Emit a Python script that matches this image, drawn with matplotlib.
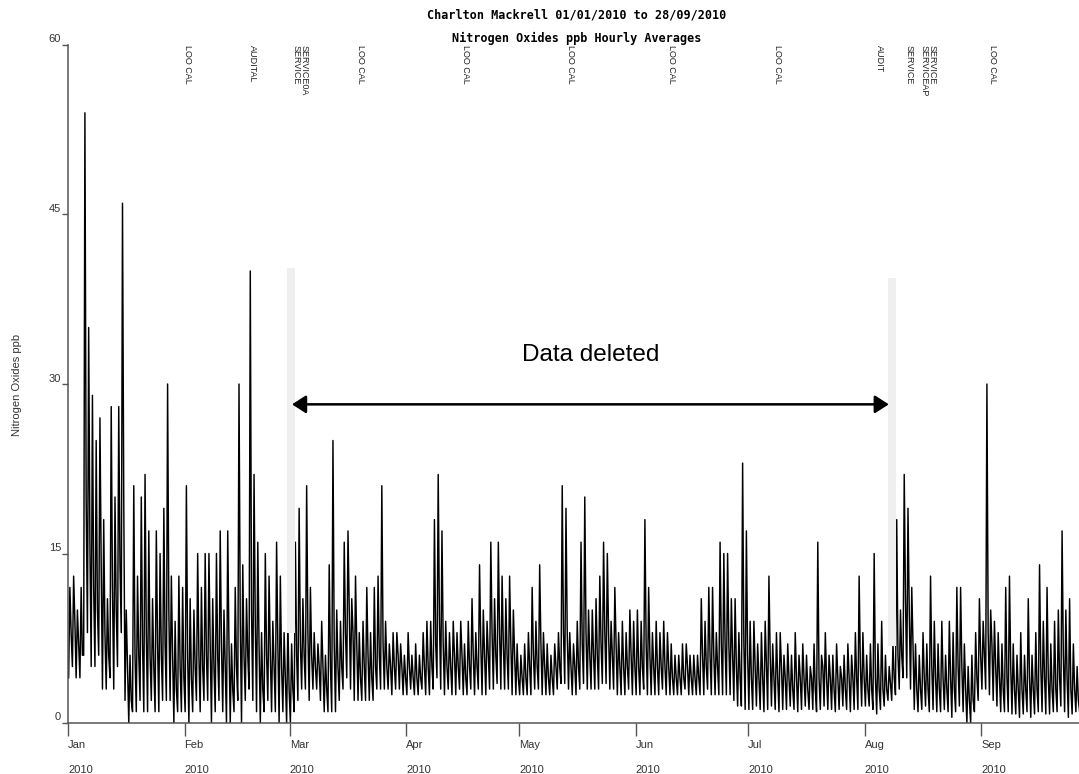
import numpy as np
import matplotlib
matplotlib.use("Agg")
from matplotlib import pyplot as plt
from matplotlib.transforms import ScaledTranslation, blended_transform_factory

# --- Data: NOx hourly record, summarised per day (day 0 = 01/01/2010) ---
# daily highest spike, lowest dip and typical level
nox_peak = (
    [12, 13, 10, 12, 54, 35, 29, 25, 27, 18, 11, 28, 20, 28, 46, 10, 6, 21, 13, 20, 22, 17, 11, 17, 15, 19, 30, 13, 9, 13, 12]  # Jan
    + [21, 11, 10, 15, 12, 15, 15, 11, 15, 17, 10, 17, 7, 12, 30, 14, 11, 40, 22, 16, 8, 15, 13, 9, 16, 13, 8, 9]  # Feb
    + [7, 16, 19, 11, 21, 12, 8, 7, 9, 6, 14, 25, 10, 9, 16, 17, 11, 13, 8, 9, 12, 8, 12, 13, 21, 9, 7, 8, 8, 7, 6]  # Mar
    + [8, 6, 7, 6, 8, 9, 9, 18, 22, 17, 9, 8, 9, 8, 9, 7, 9, 11, 8, 14, 10, 9, 16, 11, 16, 13, 11, 13, 10, 7]  # Apr
    + [6, 7, 8, 12, 9, 14, 8, 7, 6, 7, 8, 21, 19, 8, 7, 9, 16, 20, 10, 10, 11, 13, 16, 15, 9, 12, 8, 9, 8, 10, 9]  # May
    + [10, 9, 18, 12, 8, 9, 8, 9, 8, 7, 6, 6, 7, 7, 6, 6, 6, 11, 9, 12, 12, 8, 16, 15, 15, 11, 11, 8, 23, 17]  # Jun
    + [9, 9, 7, 8, 9, 13, 7, 8, 8, 6, 7, 6, 8, 6, 7, 6, 5, 7, 16, 6, 8, 6, 6, 7, 5, 6, 7, 6, 8, 13, 8]  # Jul
    + [6, 7, 15, 7, 9, 6, 5, 7, 18, 10, 22, 19, 12, 7, 6, 8, 7, 13, 9, 7, 9, 6, 9, 8, 12, 12, 7, 5, 6, 8, 11]  # Aug
    + [9, 30, 10, 9, 8, 7, 12, 13, 7, 6, 8, 6, 11, 6, 8, 14, 9, 12, 7, 9, 10, 17, 10, 11, 7, 5, 4]  # Sep
)
nox_low = (
    [4, 5, 4, 4, 6, 8, 5, 5, 6, 3, 3, 4, 3, 5, 8, 2, 0, 1, 1, 2, 1, 1, 2, 1, 1, 2, 2, 2, 0, 1, 1]
    + [1, 0, 1, 2, 1, 2, 2, 0, 1, 2, 1, 0, 0, 1, 2, 0, 2, 3, 2, 1, 0, 1, 2, 1, 1, 0, 1, 0]
    + [0, 1, 2, 3, 3, 2, 3, 3, 2, 1, 1, 1, 1, 2, 3, 4, 3, 2, 2, 2, 2, 2, 2, 3, 3, 3, 3, 2.5, 3, 3, 2.5]
    + [2.5, 3, 2.5, 2.5, 3, 2.5, 2.5, 3, 4, 3, 2.5, 3, 2.5, 2.5, 3, 2.5, 2.5, 3, 2.5, 3, 2.5, 2.5, 3, 3, 3.5, 3, 3, 3, 2.5, 2.5]
    + [2.5, 2.5, 2.5, 2.5, 3, 3, 2.5, 2.5, 2.5, 2.5, 3, 3.5, 3.5, 3, 2.5, 2.5, 3, 3.5, 3, 3, 3, 3, 3.5, 3.5, 3, 3, 2.5, 2.5, 2.5, 3, 2.5]
    + [2.5, 2.5, 3, 2.5, 2.5, 2.5, 2.5, 3, 2.5, 2.5, 2.5, 2.5, 2.5, 3, 2.5, 2.5, 2.5, 2.5, 2.5, 3, 2.5, 2.5, 2.5, 2.5, 2.5, 2.5, 2, 1.5, 1.5, 1.2]
    + [1.2, 1.2, 1.5, 1.2, 1.0, 1.2, 1.5, 1.2, 1.0, 1.2, 1.2, 1.5, 1.2, 1.0, 1.2, 1.5, 1.2, 1.2, 1.0, 1.2, 1.5, 1.2, 1.2, 1.0, 1.2, 1.5, 1.2, 1.0, 1.2, 1.2, 1.5]
    + [1.5, 1.5, 1.2, 0.8, 1.2, 1.5, 2, 2, 2.5, 3, 4, 4, 3, 1.2, 1, 1.2, 1.5, 1, 1.2, 1, 1, 1.2, 1, 0.5, 1, 1.5, 1, 0, 0, 1, 2]
    + [3, 3, 2.5, 2, 1.5, 1, 1, 1, 0.8, 0.8, 0.5, 0.8, 1, 0.5, 0.8, 1, 1, 0.8, 0.8, 1, 1, 1.5, 1, 0.5, 0.8, 1, 1]
)
nox_typ = (
    [8, 9, 7, 6, 20, 16, 12, 10, 14, 8, 6, 12, 10, 14, 20, 5, 2, 6, 6, 7, 8, 6, 5, 7, 6, 7, 10, 6, 3, 5, 4]
    + [6, 4, 5, 6, 5, 6, 7, 5, 6, 7, 5, 7, 3, 5, 9, 6, 6, 10, 9, 7, 3, 6, 6, 5, 7, 5, 4, 3]
    + [3, 6, 7, 6, 8, 6, 5, 5, 5, 3, 5, 7, 5, 5, 8, 10, 8, 7, 4, 5, 6, 4, 5, 6, 7, 5, 5, 5, 6, 5, 4]
    + [5, 4, 4, 4, 5, 5, 5, 7, 9, 7, 5, 5, 6, 5, 6, 4, 5, 6, 5, 7, 6, 6, 8, 6, 8, 7, 6, 7, 6, 4]
    + [4, 4, 5, 6, 5, 7, 5, 4, 4, 5, 5, 8, 8, 5, 5, 5, 7, 8, 6, 6, 6, 7, 8, 8, 6, 7, 5, 5, 5, 6, 5]
    + [5, 5, 7, 6, 5, 5, 5, 5, 5, 4, 4, 4, 4, 5, 4, 4, 4, 6, 5, 6, 6, 5, 7, 7, 7, 6, 5, 4, 7, 6]
    + [4, 5, 4, 4, 5, 6, 4, 4, 5, 4, 4, 3, 4, 4, 4, 3, 4, 3, 4, 5, 4, 4, 3, 4, 4, 3, 4, 4, 4, 5, 4]
    + [3, 3, 4, 3, 3, 3, 3.5, 4, 6, 6, 11, 10, 7, 3, 3, 4, 3, 5, 4, 3, 4, 3, 4, 3, 5, 5, 3, 2, 2, 4, 6]
    + [6, 8, 7, 5, 4, 3, 4, 5, 3, 3, 3, 3, 4, 3, 3, 5, 4, 4, 3, 3, 4, 6, 4, 3, 3, 2, 2]
)

month_labels = ["Jan", "Feb", "Mar", "Apr", "May", "Jun", "Jul", "Aug", "Sep"]
month_start_days = [0, 31, 59, 90, 120, 151, 181, 212, 243]

# site events printed along the top of the chart (day of year)
event_days = [31.8, 49.0, 60.6, 62.8, 77.9, 105.8, 133.8, 160.7, 188.9, 215.8, 223.8, 227.7, 230.0, 246.0]
event_labels = ["LOO CAL", "AUDITAL", "SERVICE", "SERVICE0A", "LOO CAL", "LOO CAL", "LOO CAL",
                "LOO CAL", "LOO CAL", "AUDIT", "SERVICE", "SERVICEAP", "SERVICE", "LOO CAL"]

deleted_start, deleted_end = 59.6, 218.4

# --- Build the line (low, peak, typical within each day) ---
days = np.arange(len(nox_peak))
x = (days[:, None] + np.array([0.17, 0.5, 0.83])[None, :]).ravel()
y = np.column_stack([nox_low, nox_peak, nox_typ]).ravel()

sans = ["Liberation Sans", "DejaVu Sans"]
axis_col = "#555555"
text_col = "#333333"

fig = plt.figure(figsize=(10.79, 7.74), dpi=100)
ax = fig.add_axes([68 / 1079, 51 / 774, 1 - 68 / 1079, 678 / 774])

ax.plot(x, y, color="black", lw=1.05, zorder=2)

# grey bars marking the deleted span
ax.bar(59.3, 40.3 - 8.0, bottom=8.0, width=2.2, color="#efefef", zorder=3)
ax.bar(219.3, 39.4 - 6.8, bottom=6.8, width=2.0, color="#efefef", zorder=3)

ax.annotate("", xy=(deleted_start, 28.2), xytext=(deleted_end, 28.2),
            arrowprops=dict(arrowstyle="<|-|>,head_length=0.42,head_width=0.27",
                            lw=1.8, color="black", mutation_scale=20,
                            shrinkA=0, shrinkB=0), zorder=4)
ax.text((deleted_start + deleted_end) / 2 + 0.2, 32.6, "Data deleted", ha="center", va="center",
        fontsize=17.5, family=sans, color="black", zorder=4)

trans = blended_transform_factory(ax.transData, ax.transAxes)
for d, lab in zip(event_days, event_labels):
    ax.text(d, 1.0, lab, transform=trans, rotation=270, ha="center", va="top",
            fontsize=6.5, family=sans, color="#222222", clip_on=False)

ax.set_xlim(0, 269)
ax.set_ylim(0, 60)

for side in ["top", "right"]:
    ax.spines[side].set_visible(False)
for side in ["left", "bottom"]:
    ax.spines[side].set_color(axis_col)
    ax.spines[side].set_linewidth(1.1)

ax.set_yticks([0, 15, 30, 45, 60])
ax.set_yticklabels(["0", "15", "30", "45", "60"], family=sans, fontsize=8, color=text_col)
ax.tick_params(axis="y", length=4, width=1, color=axis_col, pad=1)
for lab in ax.get_yticklabels():
    lab.set_transform(lab.get_transform() + ScaledTranslation(0, 6.5 / 100, fig.dpi_scale_trans))

ax.set_xticks(month_start_days)
ax.set_xticklabels([f"{m}\n2010" for m in month_labels], family=sans, fontsize=8,
                   color=text_col, ha="left", linespacing=2.85)
ax.tick_params(axis="x", length=9, width=1, color=axis_col, pad=3.5)

fig.text(577 / 1079, 1 - 15.5 / 774, "Charlton Mackrell 01/01/2010 to 28/09/2010",
         ha="center", va="center", family="DejaVu Sans Mono", fontweight="bold", fontsize=8.5)
fig.text(577 / 1079, 1 - 38 / 774, "Nitrogen Oxides ppb Hourly Averages",
         ha="center", va="center", family="DejaVu Sans Mono", fontweight="bold", fontsize=8.5)
fig.text(17 / 1079, 1 - 385 / 774, "Nitrogen Oxides ppb", rotation=90, ha="center", va="center",
         family=sans, fontsize=8, color=text_col)

fig.savefig("out.png", dpi=100)
